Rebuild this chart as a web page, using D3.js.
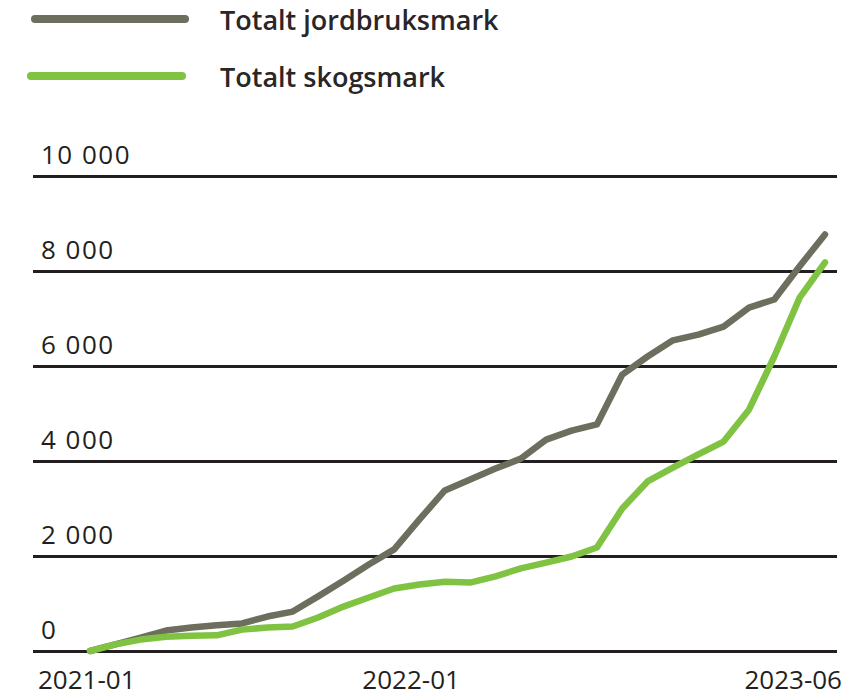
<!DOCTYPE html>
<html>
<head>
<meta charset="utf-8">
<script src="https://cdn.jsdelivr.net/npm/d3@7"></script>
<style>
  body { margin: 0; background: #fff; }
  svg { display: block; }
  .tick text { font-family: "Open Sans", sans-serif; fill: #231f20; }
</style>
</head>
<body>
<svg id="chart" width="854" height="696"></svg>
<script>
// Data: monthly, 2021-01 .. 2023-06
const months = d3.range(30).map((i) => {
    const d = new Date(2021, i, 1);
    return `${d.getFullYear()}-${String(d.getMonth() + 1).padStart(2, '0')}`;
});

const jordbruksmark = [
    0, 140, 280, 430, 495, 540, 580, 725, 830, 1150,
    1480, 1820, 2140, 2770, 3380, 3610, 3840, 4050, 4450, 4640,
    4770, 5820, 6200, 6540, 6660, 6830, 7230, 7400, 8100, 8770,
];

const skogsmark = [
    0, 140, 240, 300, 320, 330, 450, 495, 515, 705,
    935, 1125, 1315, 1400, 1460, 1440, 1570, 1740, 1860, 1990,
    2180, 3000, 3570, 3860, 4140, 4410, 5080, 6200, 7440, 8180,
];

const yTicks = [0, 2000, 4000, 6000, 8000, 10000];
const xTickLabels = ['2021-01', '2022-01', '2023-06'];

const series = [
    { name: 'Totalt jordbruksmark', values: jordbruksmark, color: '#6d6e5e' },
    { name: 'Totalt skogsmark', values: skogsmark, color: '#80c342' },
];

// Layout
const gridLeft = 33;
const gridRight = 837;

const svg = d3.select('#chart');

const x = d3.scaleLinear().domain([0, months.length - 1]).range([90, 825]);
const y = d3.scaleLinear().domain([0, 10000]).range([651, 176]);

const nb = d3.formatLocale({ decimal: ',', thousands: ' ', grouping: [3], currency: ['', ''] });
const fmt = nb.format(',d');

// Grid + y labels
const yAxis = svg
    .append('g')
    .attr('class', 'axis axis-y')
    .attr('transform', `translate(${gridLeft},0)`)
    .call(d3.axisRight(y).tickValues(yTicks).tickSize(gridRight - gridLeft).tickFormat(fmt));

yAxis.select('.domain').remove();
yAxis.selectAll('.tick line').attr('stroke', '#231f20').attr('stroke-width', 3);
yAxis
    .selectAll('.tick text')
    .attr('x', 8)
    .attr('dy', -13)
    .attr('text-anchor', 'start')
    .style('font-size', '26px')
    .style('letter-spacing', '1.5px');

// X labels (first left-aligned, last right-aligned to the grid)
const xLabelPos = { '2021-01': ['start', -52], '2022-01': ['middle', 17], '2023-06': ['end', 17] };
svg
    .append('g')
    .attr('class', 'axis axis-x')
    .selectAll('text')
    .data(xTickLabels)
    .join('text')
    .attr('x', (d) => x(months.indexOf(d)) + xLabelPos[d][1])
    .attr('y', 689)
    .attr('text-anchor', (d) => xLabelPos[d][0])
    .style('font-family', '"Open Sans", sans-serif')
    .style('font-size', '26px')
    .style('fill', '#231f20')
    .text((d) => d);

// Lines
const line = d3
    .line()
    .x((d, i) => x(i))
    .y((d) => y(d));

svg
    .append('g')
    .selectAll('path')
    .data(series)
    .join('path')
    .attr('d', (d) => line(d.values))
    .attr('fill', 'none')
    .attr('stroke', (d) => d.color)
    .attr('stroke-width', 6.5)
    .attr('stroke-linejoin', 'round')
    .attr('stroke-linecap', 'round');

// Legend
const legend = svg
    .append('g')
    .selectAll('g')
    .data(series)
    .join('g')
    .attr('transform', (d, i) => `translate(0,${19 + i * 57})`);

legend
    .append('line')
    .attr('x1', (d, i) => (i === 0 ? 35 : 31))
    .attr('x2', (d, i) => (i === 0 ? 185 : 182))
    .attr('stroke', (d) => d.color)
    .attr('stroke-width', 8)
    .attr('stroke-linecap', 'round');

legend
    .append('text')
    .attr('x', 220)
    .attr('y', 11)
    .style('font-family', '"Open Sans", sans-serif')
    .style('font-weight', 600)
    .style('font-size', '27px')
    .style('fill', '#2a2627')
    .text((d) => d.name);
</script>
</body>
</html>
